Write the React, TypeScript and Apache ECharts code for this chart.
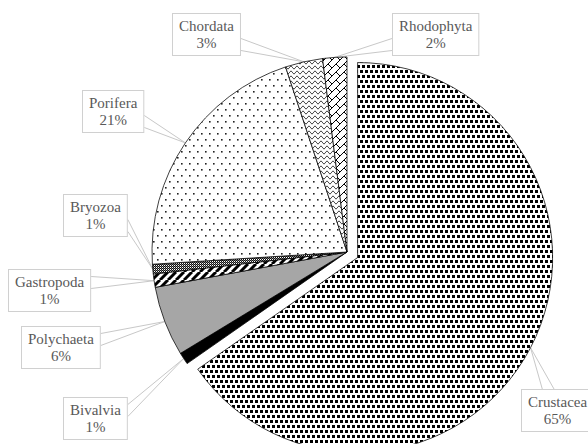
import { useEffect, useRef } from 'react';
import * as echarts from 'echarts';

// ---- data ----
const categories = ['Crustacea', 'Bivalvia', 'Polychaeta', 'Gastropoda', 'Bryozoa', 'Porifera', 'Chordata', 'Rhodophyta'];
const shares = [65.3, 1.0, 5.8, 1.1, 0.8, 20.9, 3.1, 2.0];
const explodedIndex = 0;

// ---- layout ----
const CX = 347;
const CY = 252;
const R = 195;
const EXPLODE = 12;
// top-left corners of the callout boxes
const labelBoxes: [number, number][] = [
  [521, 390],
  [63, 398],
  [21, 327],
  [8, 270],
  [63, 195],
  [82, 91],
  [172, 14],
  [392, 14],
];

type Ctx = CanvasRenderingContext2D;

function makeTile(w: number, h: number, draw: (ctx: Ctx) => void) {
  const c = document.createElement('canvas');
  c.width = w;
  c.height = h;
  const ctx = c.getContext('2d') as Ctx;
  ctx.fillStyle = '#fff';
  ctx.fillRect(0, 0, w, h);
  ctx.fillStyle = '#000';
  ctx.strokeStyle = '#000';
  draw(ctx);
  return { image: c.toDataURL(), repeat: 'repeat', imageWidth: w, imageHeight: h } as any;
}

function buildFills() {
  const crustacea = makeTile(10, 10, (ctx) => {
    for (const [x, y] of [[0, 0], [5, 0], [2, 5], [7, 5]]) ctx.fillRect(x, y, 3, 3);
  });
  const gastropoda = makeTile(8, 8, (ctx) => {
    ctx.lineWidth = 3;
    for (let c = -8; c <= 24; c += 8) {
      ctx.beginPath();
      ctx.moveTo(c, 0);
      ctx.lineTo(c - 8, 8);
      ctx.stroke();
    }
  });
  const bryozoa = makeTile(2, 2, (ctx) => {
    ctx.fillStyle = '#111';
    ctx.fillRect(0, 0, 1, 1);
    ctx.fillRect(1, 1, 1, 1);
    ctx.fillStyle = '#777';
    ctx.fillRect(1, 0, 1, 1);
  });
  const porifera = makeTile(8, 12, (ctx) => {
    ctx.fillStyle = '#222';
    ctx.fillRect(1, 1, 1.6, 1.6);
    ctx.fillRect(5, 7, 1.6, 1.6);
  });
  const chordata = makeTile(6, 5, (ctx) => {
    ctx.lineWidth = 1;
    for (const oy of [-5, 0, 5]) {
      ctx.beginPath();
      for (let x = 0; x <= 6.01; x += 0.25) {
        const y = oy + 2.5 + 1.3 * Math.cos((2 * Math.PI * x) / 6);
        if (x === 0) ctx.moveTo(x, y);
        else ctx.lineTo(x, y);
      }
      ctx.stroke();
    }
  });
  const rhodophyta = makeTile(16, 16, (ctx) => {
    ctx.lineWidth = 1;
    for (let c = -32; c <= 48; c += 8) {
      ctx.beginPath();
      ctx.moveTo(c, 0);
      ctx.lineTo(c - 16, 16);
      ctx.stroke();
    }
    for (let m = -6; m <= 8; m++) {
      const base = ((m % 2) + 2) % 2 === 0 ? 0 : 8;
      for (let d = -48 + base; d <= 48; d += 16) {
        const x1 = (8 * m + d) / 2, y1 = (8 * m - d) / 2;
        const x2 = (8 * m + 8 + d) / 2, y2 = (8 * m + 8 - d) / 2;
        ctx.beginPath();
        ctx.moveTo(x1, y1);
        ctx.lineTo(x2, y2);
        ctx.stroke();
      }
    }
  });
  return [crustacea, '#000000', '#a6a6a6', gastropoda, bryozoa, porifera, chordata, rhodophyta];
}

const FONT = '"Liberation Serif", "Times New Roman", "DejaVu Serif", serif';

export default function App() {
  const ref = useRef<HTMLDivElement>(null);

  useEffect(() => {
    const chart = echarts.init(ref.current!, null, { renderer: 'svg' });
    const total = shares.reduce((a, b) => a + b, 0);
    const startOf = (i: number) => shares.slice(0, i).reduce((a, b) => a + b, 0);
    const midRad = (i: number) => ((startOf(i) + shares[i] / 2) / total) * 2 * Math.PI;
    const em = midRad(explodedIndex);
    const ox = EXPLODE * Math.sin(em);
    const oy = -EXPLODE * Math.cos(em);
    const anchor = (i: number): [number, number] => {
      const a = midRad(i);
      const cx = i === explodedIndex ? CX + ox : CX;
      const cy = i === explodedIndex ? CY + oy : CY;
      return [cx + R * Math.sin(a), cy - R * Math.cos(a)];
    };
    const fills = buildFills();
    const clamp = (v: number, lo: number, hi: number) => Math.max(lo, Math.min(hi, v));

    const labelLayout = (p: any) => {
      const i = p.dataIndex;
      const [bx, by] = labelBoxes[i];
      const w = p.labelRect.width;
      const h = p.labelRect.height;
      const [ax, ay] = anchor(i);
      const hw = 6;
      const sh = 9;
      let pts: number[][];
      if (ax > bx + w || ax < bx) {
        const ex = ax > bx + w ? bx + w : bx;
        const cy = by + h / 2 + clamp(ay - (by + h / 2), -sh, sh);
        pts = [[ex, cy - hw], [ax, ay], [ex, cy + hw]];
      } else {
        const ey = ay > by + h ? by + h : by;
        const cx = bx + w / 2 + clamp(ax - (bx + w / 2), -sh, sh);
        pts = [[cx - hw, ey], [ax, ay], [cx + hw, ey]];
      }
      return { x: bx + w / 2, y: by, align: 'center', verticalAlign: 'top', labelLinePoints: pts };
    };

    const labelStyle = {
      position: 'outside',
      formatter: (p: any) => `${p.name}\n${Math.round((p.value / total) * 100)}%`,
      fontFamily: FONT,
      fontSize: 15,
      lineHeight: 17,
      color: '#595959',
      backgroundColor: '#ffffff',
      borderColor: '#d0d0d0',
      borderWidth: 1,
      padding: [3.5, 6],
      align: 'center',
    };

    const mkData = (visible: (i: number) => boolean) =>
      categories.map((name, i) => ({
        name,
        value: shares[i],
        itemStyle: visible(i)
          ? { color: fills[i], borderColor: '#000', borderWidth: 0.75 }
          : { color: 'rgba(0,0,0,0)', borderWidth: 0 },
        label: { show: visible(i) },
        labelLine: { show: visible(i) },
      }));

    const base = {
      type: 'pie',
      radius: R,
      startAngle: 90,
      clockwise: true,
      silent: true,
      avoidLabelOverlap: false,
      label: labelStyle,
      labelLine: { show: true, smooth: false, lineStyle: { color: '#c8c8c8', width: 1 } },
      labelLayout,
      emphasis: { disabled: true },
    };

    chart.setOption({
      animation: false,
      backgroundColor: '#ffffff',
      textStyle: { fontFamily: FONT },
      series: [
        { ...base, name: 'rest', center: [CX, CY], data: mkData((i) => i !== explodedIndex) },
        { ...base, name: 'exploded', center: [CX + ox, CY + oy], data: mkData((i) => i === explodedIndex) },
      ],
    } as any);

    return () => chart.dispose();
  }, []);

  return (
    <div
      ref={ref}
      style={{ position: 'fixed', left: 0, top: 0, width: 588, height: 444, background: '#fff' }}
    />
  );
}
